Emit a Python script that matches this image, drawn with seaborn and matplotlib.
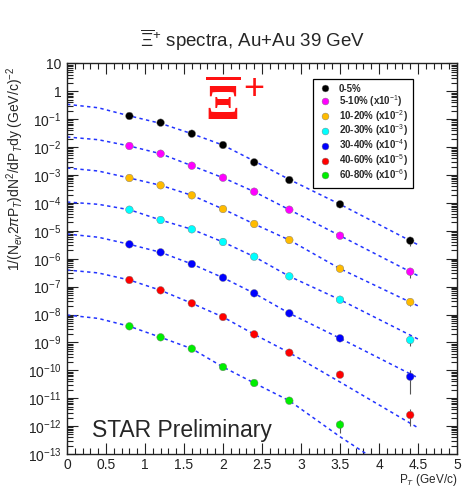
import numpy as np
import pandas as pd
import matplotlib
matplotlib.use("Agg")
import matplotlib.pyplot as plt
import seaborn as sns
from matplotlib.ticker import MultipleLocator, LogLocator, FuncFormatter, NullFormatter

# ---------------- data ----------------
pt = [0.8, 1.2, 1.6, 2.0, 2.4, 2.85, 3.5, 4.4]

labels = ["0-5%", "5-10% (x10$^{-1}$)", "10-20% (x10$^{-2}$)", "20-30% (x10$^{-3}$)",
          "30-40% (x10$^{-4}$)", "40-60% (x10$^{-5}$)", "60-80% (x10$^{-6}$)"]
colors = ["#000000", "#ff00ff", "#ffbb00", "#00ffff", "#0000ff", "#ff0000", "#00ee00"]

# log10 of displayed (scaled) yields
log_y_0_5 = [-0.885, -1.125, -1.52, -1.925, -2.545, -3.18, -4.05, -5.355]
log_y_5_10 = [-1.96, -2.237, -2.667, -3.097, -3.598, -4.244, -5.176, -6.466]
log_y_10_20 = [-3.108, -3.369, -3.728, -4.219, -4.756, -5.33, -6.358, -7.552]
log_y_20_30 = [-4.244, -4.613, -4.946, -5.401, -5.928, -6.631, -7.47, -8.914]
log_y_30_40 = [-5.484, -5.771, -6.19, -6.681, -7.24, -7.957, -8.853, -10.23]
log_y_40_60 = [-6.763, -7.133, -7.598, -8.09, -8.71, -9.369, -10.158, -11.602]
log_y_60_80 = [-8.423, -8.817, -9.226, -9.882, -10.455, -11.09, -11.95]

# relative errors
err_0_5 = [0.05, 0.05, 0.05, 0.05, 0.05, 0.06, 0.10, 0.35]
err_5_10 = [0.05, 0.05, 0.05, 0.05, 0.06, 0.07, 0.10, 0.40]
err_10_20 = [0.05, 0.05, 0.05, 0.05, 0.06, 0.07, 0.10, 0.30]
err_20_30 = [0.05, 0.05, 0.05, 0.05, 0.06, 0.08, 0.12, 0.40]
err_30_40 = [0.05, 0.05, 0.05, 0.06, 0.07, 0.08, 0.15, 0.75]
err_40_60 = [0.05, 0.05, 0.06, 0.07, 0.08, 0.10, 0.20, 0.60]
err_60_80 = [0.08, 0.08, 0.10, 0.10, 0.15, 0.20, 0.50]

# fit curves (log10), read at these pT values
curve_pt = [0.0, 0.4, 0.8, 1.2, 1.6, 2.0, 2.4, 2.85, 3.5, 4.5]
curve_0_5 = [-0.466, -0.59, -0.88, -1.15, -1.52, -1.93, -2.50, -3.16, -4.05, -5.50]
curve_5_10 = [-1.638, -1.735, -1.96, -2.237, -2.667, -3.097, -3.598, -4.244, -5.176, -6.61]
curve_10_20 = [-2.749, -2.857, -3.108, -3.369, -3.728, -4.219, -4.756, -5.33, -6.358, -7.69]
curve_20_30 = [-3.968, -4.05, -4.244, -4.613, -4.946, -5.401, -5.928, -6.631, -7.47, -8.88]
curve_30_40 = [-5.115, -5.23, -5.484, -5.771, -6.19, -6.681, -7.24, -7.957, -8.853, -10.27]
curve_40_60 = [-6.405, -6.51, -6.763, -7.133, -7.598, -8.09, -8.71, -9.369, -10.42, -12.06]
curve_60_80 = [-8.018, -8.14, -8.423, -8.817, -9.226, -9.882, -10.455, -11.09, -12.38, -14.2]

series = [log_y_0_5, log_y_5_10, log_y_10_20, log_y_20_30, log_y_30_40, log_y_40_60, log_y_60_80]
errors = [err_0_5, err_5_10, err_10_20, err_20_30, err_30_40, err_40_60, err_60_80]
curves = [curve_0_5, curve_5_10, curve_10_20, curve_20_30, curve_30_40, curve_40_60, curve_60_80]

# ---------------- style ----------------
sns.set_style("ticks")
plt.rcParams["font.family"] = ["Liberation Sans", "DejaVu Sans"]
plt.rcParams["mathtext.fontset"] = "custom"
plt.rcParams["mathtext.rm"] = "Liberation Sans"
plt.rcParams["mathtext.it"] = "Liberation Sans:italic"
plt.rcParams["mathtext.bf"] = "Liberation Serif:bold"

fig = plt.figure(figsize=(4.69, 4.86), dpi=100)
ax = fig.add_axes([67 / 469, 1 - 454 / 486, 390 / 469, 390.6 / 486])

rows = []
for lab, ys, es in zip(labels, series, errors):
    for x, ly, e in zip(pt, ys, es):
        rows.append({"pT": x, "y": 10 ** ly, "rel": e, "cent": lab})
df = pd.DataFrame(rows)

for c in curves:
    sns.lineplot(x=curve_pt, y=10 ** np.array(c), ax=ax, color="#2233ff",
                 linestyle=(0, (2.2, 2.2)), linewidth=1.1, legend=False, zorder=1)

ax.errorbar(df["pT"], df["y"], yerr=df["y"] * df["rel"], fmt="none",
            ecolor="#555555", elinewidth=0.8, zorder=2)

sns.scatterplot(data=df, x="pT", y="y", hue="cent", hue_order=labels,
                palette=colors, s=30, edgecolor="#777777", linewidth=0.3,
                ax=ax, zorder=3)

ax.set_yscale("log")
ax.set_xlim(0, 5)
ax.set_ylim(1e-13, 10)

ax.xaxis.set_major_locator(MultipleLocator(0.5))
ax.xaxis.set_minor_locator(MultipleLocator(0.1))
ax.xaxis.set_major_formatter(FuncFormatter(lambda v, p: f"{v:g}"))
ax.yaxis.set_major_locator(LogLocator(base=10, numticks=30))
ax.yaxis.set_minor_locator(LogLocator(base=10, subs=np.arange(2, 10), numticks=300))
ax.yaxis.set_minor_formatter(NullFormatter())


def yfmt(v, p):
    e = int(round(np.log10(v)))
    if e == 1:
        return "10"
    if e == 0:
        return "1"
    return f"$10^{{{e}}}$"


ax.yaxis.set_major_formatter(FuncFormatter(yfmt))
ax.tick_params(which="both", direction="in", top=True, right=True, width=0.8, colors="#222222")
ax.tick_params(which="major", length=8, labelsize=10, pad=4)
ax.tick_params(axis="x", which="major", labelsize=10, pad=3)
ax.tick_params(which="minor", length=4)
for s in ax.spines.values():
    s.set_linewidth(1.0)
    s.set_color("#222222")

ax.set_xlabel("")
ax.set_ylabel("")

handles, labs = ax.get_legend_handles_labels()
leg = ax.legend(handles, labs, loc="upper left", bbox_to_anchor=(0.632, 0.960),
                frameon=True, fancybox=False, edgecolor="black", framealpha=1,
                prop={"weight": "bold", "size": 7.0}, labelspacing=-0.1,
                handletextpad=0.8, borderpad=0.5, handlelength=1.3, markerscale=0.9,
                borderaxespad=0)
leg.get_frame().set_linewidth(0.9)

# big red Xi-bar +
ax.text(0.40, 0.895, r"$\overline{\mathbf{\Xi}}$", transform=ax.transAxes,
        color="#ff1111", fontsize=36, ha="center", va="center")
ax.text(0.48, 0.933, "+", transform=ax.transAxes, color="#ff1111",
        fontsize=26, ha="center", va="center")

ax.text(25 / 390, (454 - 437) / 390.6, "STAR Preliminary", transform=ax.transAxes,
        fontsize=16.5, ha="left", va="baseline")

fig.text(253 / 469, 1 - 40 / 486, r"$\overline{\Xi}^{+}$ spectra, Au+Au 39 GeV",
         ha="center", va="center", fontsize=13.5)
fig.text(15 / 469, 1 - 67 / 486,
         r"1/(N$_{ev}$2$\pi$P$_{T}$)dN$^{2}$/dP$_{T}$dy (GeV/c)$^{-2}$",
         rotation=90, ha="center", va="top", fontsize=10)
fig.text(457 / 469, 1 - 472 / 486, r"P$_{T}$ (GeV/c)", ha="right", va="top", fontsize=8.5)

fig.savefig("out.png", dpi=100)
